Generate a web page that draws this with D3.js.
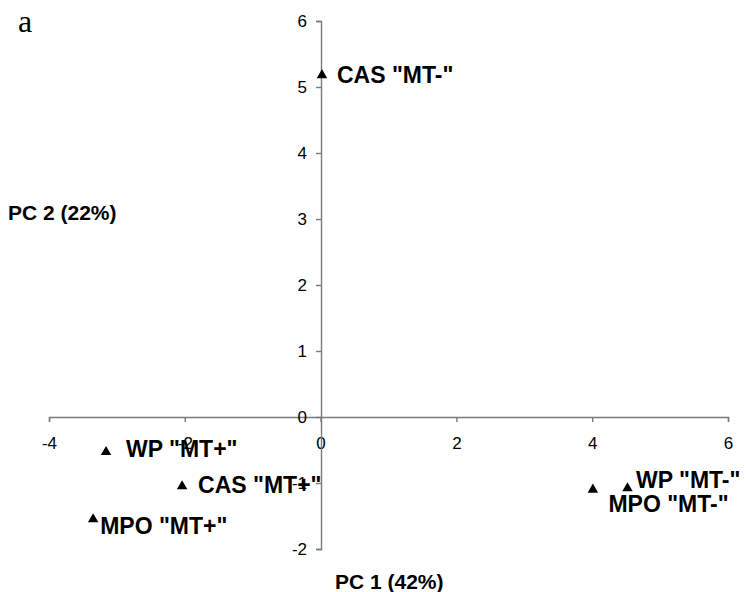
<!DOCTYPE html>
<html>
<head>
<meta charset="utf-8">
<script src="https://cdn.jsdelivr.net/npm/d3@7"></script>
<style>
  html, body { margin: 0; padding: 0; background: #fff; }
  svg { display: block; }
  text { font-family: "Liberation Sans", Arial, Helvetica, sans-serif; }
</style>
</head>
<body>
<svg id="chart" width="748" height="592"></svg>
<script>
// ---- data ----
const pointNames = ['CAS "MT-"', 'WP "MT+"', 'CAS "MT+"', 'MPO "MT+"', 'MPO "MT-"', 'WP "MT-"'];
const pc1Values = [0.02, -3.16, -2.04, -3.35, 4.01, 4.52];
const pc2Values = [5.18, -0.53, -1.05, -1.55, -1.10, -1.08];
const xTickValues = [-4, -2, 0, 2, 4, 6];
const yTickValues = [-2, -1, 0, 1, 2, 3, 4, 5, 6];
const xAxisTitle = "PC 1 (42%)";
const yAxisTitle = "PC 2 (22%)";
const panelLabel = "a";

// ---- layout (label placement relative to marker) ----
const labelOffsets = {
  'CAS "MT-"': [15, 0],
  'WP "MT+"': [20, -3],
  'CAS "MT+"': [16, -1],
  'MPO "MT+"': [7, 7],
  'MPO "MT-"': [15.5, 14],
  'WP "MT-"': [8.5, -8]
};

const svg = d3.select("#chart");
const x = d3.scaleLinear().domain([-4, 6]).range([49, 728]);
const y = d3.scaleLinear().domain([-2, 6]).range([549, 21]);
const axisColor = "#7a7a7a";
const plainFmt = d => String(d); // hyphen-minus, as in the reference

// x axis through y=0
const gx = svg.append("g")
  .attr("transform", `translate(0,${Math.round(y(0))})`)
  .call(d3.axisBottom(x).tickValues(xTickValues).tickFormat(plainFmt).tickSizeOuter(0).tickSize(5).tickPadding(15));
// y axis through x=0
const gy = svg.append("g")
  .attr("transform", `translate(${Math.round(x(0))},0)`)
  .call(d3.axisLeft(y).tickValues(yTickValues).tickFormat(plainFmt).tickSizeOuter(0).tickSize(5).tickPadding(9));

[gx, gy].forEach(g => {
  g.select(".domain").attr("stroke", axisColor).attr("stroke-width", 1.4);
  g.selectAll(".tick line").attr("stroke", axisColor).attr("stroke-width", 1.4);
  g.selectAll(".tick text").attr("fill", "#000").style("font-size", "17px")
    .style("font-family", '"Liberation Sans", Arial, sans-serif');
});

// points
const pts = pointNames.map((n, i) => ({ name: n, pc1: pc1Values[i], pc2: pc2Values[i] }));

svg.append("g").selectAll("path")
  .data(pts).join("path")
  .attr("d", d3.symbol().type(d3.symbolTriangle).size(48))
  .attr("transform", d => `translate(${x(d.pc1)},${y(d.pc2)})`)
  .attr("fill", "#000");

svg.append("g").selectAll("text")
  .data(pts).join("text")
  .attr("x", d => x(d.pc1) + labelOffsets[d.name][0])
  .attr("y", d => y(d.pc2) + labelOffsets[d.name][1])
  .attr("dy", "0.35em")
  .style("font-size", "23px")
  .style("font-weight", "bold")
  .attr("fill", "#000")
  .text(d => d.name);

// axis titles
svg.append("text")
  .attr("x", 335).attr("y", 589)
  .style("font-size", "21px").style("font-weight", "bold")
  .text(xAxisTitle);
svg.append("text")
  .attr("x", 8).attr("y", 219.5)
  .style("font-size", "21px").style("font-weight", "bold")
  .text(yAxisTitle);

// panel label
svg.append("text")
  .attr("x", 18).attr("y", 32)
  .style("font-family", '"Liberation Serif", "Times New Roman", serif')
  .style("font-size", "32px")
  .text(panelLabel);
</script>
</body>
</html>
